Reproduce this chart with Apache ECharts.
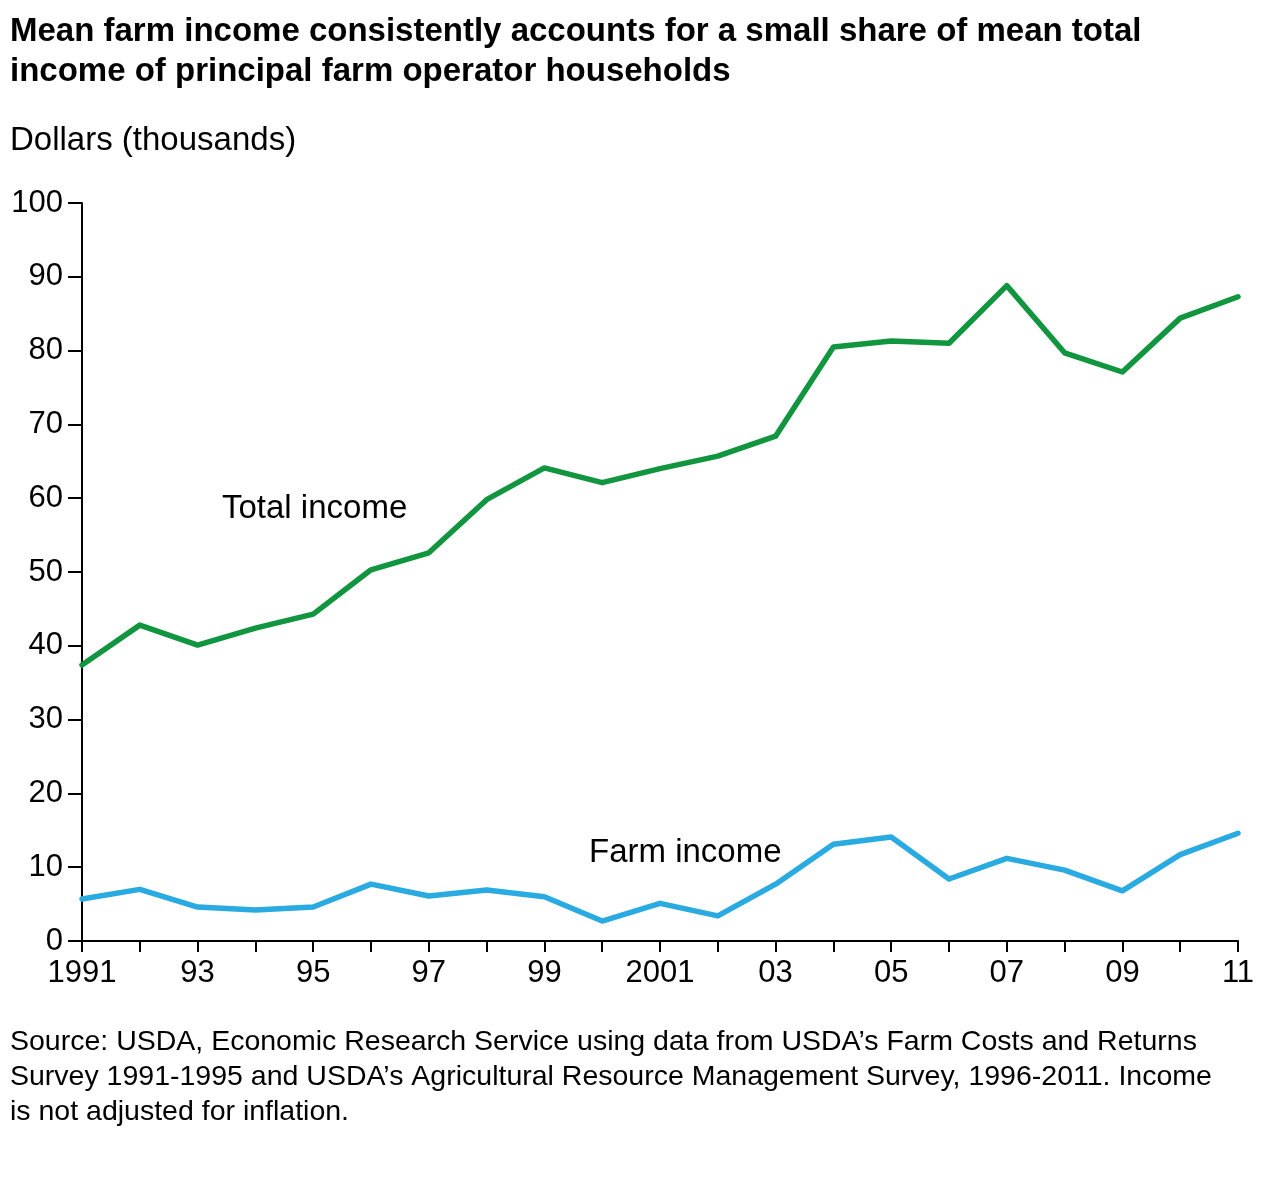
<!DOCTYPE html>
<html lang="en">
<head>
    <meta charset="UTF-8">
    <title>Mean farm income vs mean total income</title>
    <script src="https://cdn.jsdelivr.net/npm/echarts@6/dist/echarts.min.js"></script>
    <style>
        html, body { margin: 0; padding: 0; background: #fff; }
        #main { width: 1269px; height: 1184px; }
    </style>
</head>
<body>
<div id="main"></div>
<script type="text/javascript">
    // data (thousands of dollars)
    var years = ['1991','1992','1993','1994','1995','1996','1997','1998','1999','2000',
                 '2001','2002','2003','2004','2005','2006','2007','2008','2009','2010','2011'];
    var yearLabels = ['1991','','93','','95','','97','','99','',
                      '2001','','03','','05','','07','','09','','11'];
    var totalIncome = [37.4, 42.8, 40.1, 42.4, 44.3, 50.3, 52.6, 59.8, 64.1, 62.1,
                       64.0, 65.7, 68.4, 80.5, 81.3, 81.0, 88.8, 79.7, 77.1, 84.4, 87.3];
    var farmIncome = [5.7, 7.0, 4.6, 4.2, 4.6, 7.7, 6.1, 6.9, 6.0, 2.7,
                      5.1, 3.4, 7.7, 13.1, 14.1, 8.4, 11.2, 9.6, 6.8, 11.7, 14.6];

    var font = '"Liberation Sans", Arial, Helvetica, sans-serif';
    var myChart = echarts.init(document.getElementById('main'));

    var option = {
        backgroundColor: '#fff',
        animation: false,
        grid: { left: 82, right: 31, top: 203, bottom: 243, containLabel: false },
        xAxis: {
            type: 'category',
            data: years,
            boundaryGap: false,
            axisLine: { lineStyle: { color: '#000', width: 2 } },
            axisTick: { show: true, length: 11, interval: 0, lineStyle: { color: '#000', width: 2 } },
            axisLabel: {
                interval: 0,
                color: '#000',
                fontFamily: font,
                fontSize: 31,
                margin: 17,
                formatter: function (v, i) { return yearLabels[i]; }
            },
            splitLine: { show: false }
        },
        yAxis: {
            type: 'value',
            min: 0,
            max: 100,
            interval: 10,
            axisLine: { show: true, lineStyle: { color: '#000', width: 2 } },
            axisTick: { show: true, length: 14, lineStyle: { color: '#000', width: 2 } },
            axisLabel: { color: '#000', fontFamily: font, fontSize: 31, margin: 19 },
            splitLine: { show: false }
        },
        series: [
            {
                name: 'Total income',
                type: 'line',
                data: totalIncome,
                symbol: 'none',
                lineStyle: { color: '#11963f', width: 5.5, join: 'round', cap: 'round' }
            },
            {
                name: 'Farm income',
                type: 'line',
                data: farmIncome,
                symbol: 'none',
                lineStyle: { color: '#29aae1', width: 5.5, join: 'round', cap: 'round' }
            }
        ],
        graphic: [
            { type: 'text', left: 10, top: 12, style: { text: 'Mean farm income consistently accounts for a small share of mean total\nincome of principal farm operator households', font: 'bold 33px ' + font, fill: '#000', lineHeight: 40 } },
            { type: 'text', left: 10, top: 124, style: { text: 'Dollars (thousands)', font: '33px ' + font, fill: '#000' } },
            { type: 'text', left: 222, top: 492, style: { text: 'Total income', font: '33px ' + font, fill: '#000' } },
            { type: 'text', left: 589, top: 836, style: { text: 'Farm income', font: '33px ' + font, fill: '#000' } },
            { type: 'text', left: 10, top: 1025, style: { text: 'Source: USDA, Economic Research Service using data from USDA\u2019s Farm Costs and Returns\nSurvey 1991-1995 and USDA\u2019s Agricultural Resource Management Survey, 1996-2011. Income\nis not adjusted for inflation.', font: '28.5px ' + font, fill: '#000', lineHeight: 35 } }
        ]
    };
    myChart.setOption(option);
</script>
</body>
</html>
